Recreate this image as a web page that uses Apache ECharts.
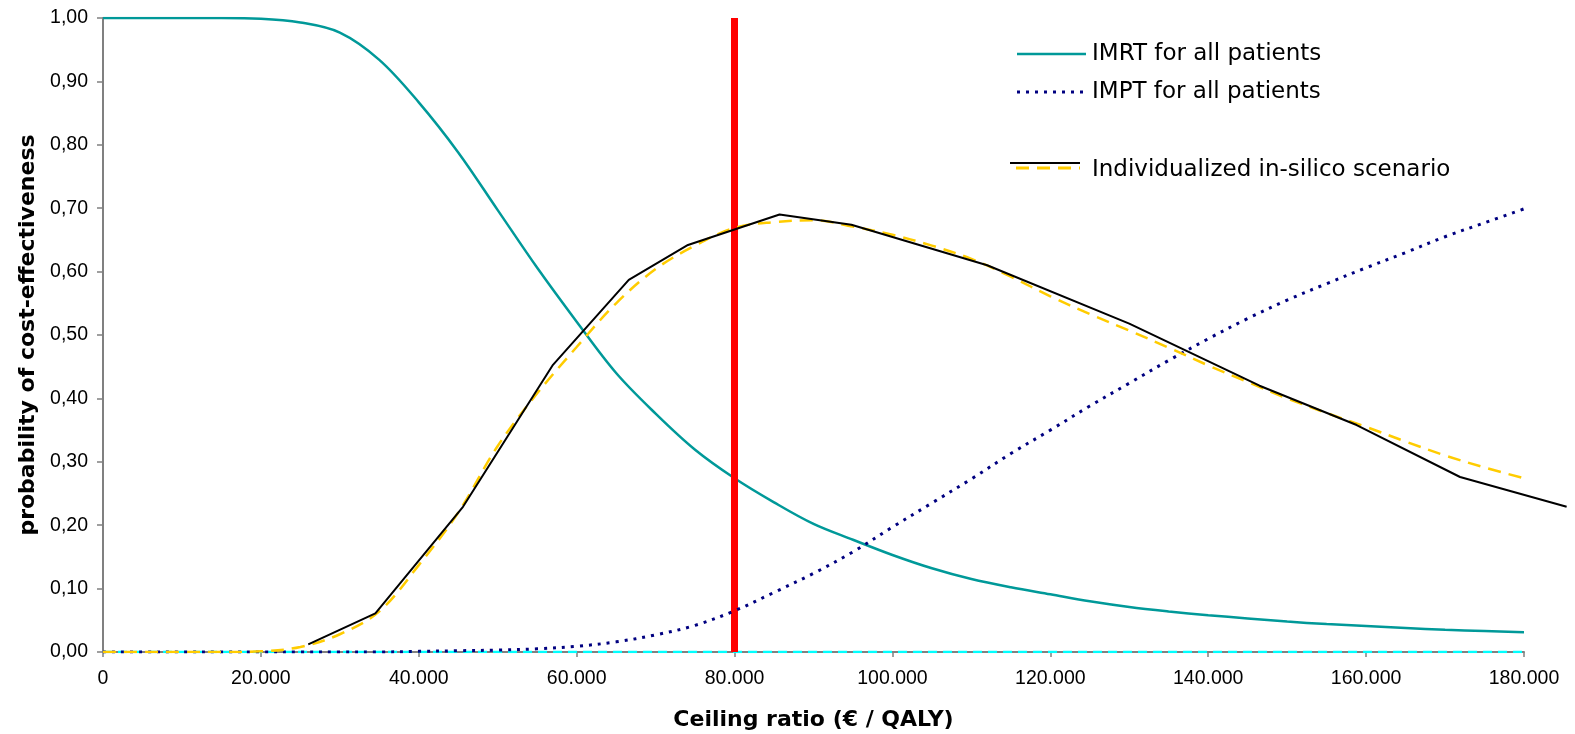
<!DOCTYPE html>
<html>
<head>
<meta charset="utf-8">
<script src="https://cdn.jsdelivr.net/npm/echarts@6/dist/echarts.min.js"></script>
<style>
    html, body { margin: 0; padding: 0; background: #fff; }
    #chart { width: 1575px; height: 734px; }
</style>
</head>
<body>
<div id="chart"></div>
<script>
    // ceiling ratio (€ / QALY), every 5.000
    const ceilingRatio = [0, 5000, 10000, 15000, 20000, 25000, 30000, 35000, 40000, 45000,
        50000, 55000, 60000, 65000, 70000, 75000, 80000, 85000, 90000, 95000,
        100000, 105000, 110000, 115000, 120000, 125000, 130000, 135000, 140000, 145000,
        150000, 155000, 160000, 165000, 170000, 175000, 180000]

    const imrtAll = [1.000, 1.000, 1.000, 1.000, 0.999, 0.993, 0.977, 0.934, 0.867, 0.788,
        0.697, 0.606, 0.521, 0.440, 0.376, 0.319, 0.274, 0.236, 0.202, 0.177,
        0.153, 0.132, 0.115, 0.102, 0.091, 0.080, 0.071, 0.064, 0.058, 0.053,
        0.048, 0.044, 0.041, 0.038, 0.035, 0.033, 0.031]

    const imptAll = [0, 0, 0, 0, 0, 0, 0, 0, 0.001, 0.002,
        0.003, 0.005, 0.009, 0.016, 0.027, 0.042, 0.065, 0.094, 0.124, 0.158,
        0.197, 0.235, 0.273, 0.313, 0.350, 0.388, 0.424, 0.460, 0.494, 0.526,
        0.555, 0.581, 0.606, 0.630, 0.655, 0.677, 0.699]

    // gele stippellijn (trend van het in-silico scenario)
    const inSilicoTrend = [0, 0, 0, 0, 0.001, 0.008, 0.028, 0.064, 0.137, 0.220,
        0.325, 0.408, 0.481, 0.550, 0.604, 0.641, 0.669, 0.678, 0.681, 0.671,
        0.658, 0.641, 0.620, 0.592, 0.561, 0.533, 0.507, 0.480, 0.452, 0.426,
        0.400, 0.377, 0.355, 0.332, 0.310, 0.291, 0.274]

    // zwarte lijn, eigen x-punten (loopt door tot voorbij 180.000)
    const inSilicoX = [26000, 34500, 45600, 57000, 66600, 74100, 85700, 94800, 112000, 130000,
        146500, 158800, 171900, 185400]
    const inSilicoY = [0.012, 0.061, 0.229, 0.453, 0.587, 0.642, 0.690, 0.674, 0.610, 0.518,
        0.420, 0.358, 0.276, 0.229]

    const baseline = [0, 0, 0, 0, 0, 0, 0, 0, 0, 0, 0, 0, 0, 0, 0, 0, 0, 0, 0,
        0, 0, 0, 0, 0, 0, 0, 0, 0, 0, 0, 0, 0, 0, 0, 0, 0, 0]

    const ceilingThreshold = 80000
    const xTicks = {min: 0, max: 180000, interval: 20000}
    const yTicks = {min: 0, max: 1, interval: 0.1}

    const legendItems = ['IMRT for all patients', 'IMPT for all patients', 'Individualized in-silico scenario']

    const font = 'Liberation Sans, Arial, sans-serif'
    const wideFont = 'DejaVu Sans, sans-serif'
    const zip = (xs, ys) => xs.map((x, i) => [x, ys[i]])

    // plotvlak
    const chartW = 1575, gridLeft = 103, gridRight = 51, gridTop = 18, gridBottom = 82
    const plotWidth = chartW - gridLeft - gridRight
    // tweede (onzichtbaar) grid met dezelfde schaal, zodat de zwarte lijn doorloopt
    const blackMax = inSilicoX[inSilicoX.length - 1]
    const gridRightWide = chartW - gridLeft - plotWidth * blackMax / xTicks.max

    const chart = echarts.init(document.getElementById('chart'))
    chart.setOption({
        animation: false,
        backgroundColor: '#fff',
        textStyle: {fontFamily: font},
        grid: [
            {left: gridLeft, right: gridRight, top: gridTop, bottom: gridBottom, outerBoundsMode: 'none'},
            {left: gridLeft, right: gridRightWide, top: gridTop, bottom: gridBottom, outerBoundsMode: 'none'}
        ],
        xAxis: [
            {
                type: 'value',
                gridIndex: 0,
                min: xTicks.min, max: xTicks.max, interval: xTicks.interval,
                name: 'Ceiling ratio (€ / QALY)',
                nameLocation: 'middle',
                nameGap: 57,
                nameTextStyle: {fontSize: 22, fontWeight: 'bold', color: '#000', fontFamily: wideFont},
                axisLine: {lineStyle: {color: '#808080', width: 2}},
                axisTick: {inside: false, length: 5, lineStyle: {color: '#808080', width: 1.5}},
                axisLabel: {
                    fontSize: 19.5, color: '#000', margin: 17, fontFamily: font,
                    formatter: v => v === 0 ? '0' : v.toLocaleString('de-DE')
                },
                splitLine: {show: false}
            },
            {
                type: 'value',
                gridIndex: 1,
                min: xTicks.min, max: blackMax,
                show: false
            }
        ],
        yAxis: [
            {
                type: 'value',
                gridIndex: 0,
                min: yTicks.min, max: yTicks.max, interval: yTicks.interval,
                name: 'probability of cost-effectiveness',
                nameLocation: 'middle',
                nameGap: 64,
                nameTextStyle: {fontSize: 22, fontWeight: 'bold', color: '#000', fontFamily: wideFont},
                axisLine: {show: true, lineStyle: {color: '#808080', width: 2}},
                axisTick: {show: true, length: 6, lineStyle: {color: '#808080', width: 1.5}},
                axisLabel: {
                    fontSize: 19.5, color: '#000', margin: 15, fontFamily: font,
                    formatter: v => v.toFixed(2).replace('.', ',')
                },
                splitLine: {show: false}
            },
            {
                type: 'value',
                gridIndex: 1,
                min: yTicks.min, max: yTicks.max,
                show: false
            }
        ],
        series: [
            {
                name: 'baseline',
                type: 'line',
                data: zip(ceilingRatio, baseline),
                showSymbol: false,
                lineStyle: {color: '#00ffff', width: 2.5, type: [9, 6]},
                z: 3
            },
            {
                name: legendItems[0],
                type: 'line',
                data: zip(ceilingRatio, imrtAll),
                showSymbol: false,
                smooth: 0.35,
                lineStyle: {color: '#009999', width: 2.5},
                z: 4,
                markLine: {
                    silent: true,
                    symbol: ['none', 'none'],
                    label: {show: false},
                    lineStyle: {color: '#ff0000', width: 7, type: 'solid'},
                    data: [{xAxis: ceilingThreshold}]
                }
            },
            {
                name: legendItems[1],
                type: 'line',
                data: zip(ceilingRatio, imptAll),
                showSymbol: false,
                smooth: 0.35,
                lineStyle: {color: '#000080', width: 3, type: [3, 6]},
                z: 5
            },
            {
                name: legendItems[2] + ' trend',
                type: 'line',
                data: zip(ceilingRatio, inSilicoTrend),
                showSymbol: false,
                smooth: 0.35,
                lineStyle: {color: '#ffcc00', width: 2.5, type: [13, 8]},
                z: 5
            },
            {
                name: legendItems[2],
                type: 'line',
                xAxisIndex: 1,
                yAxisIndex: 1,
                data: zip(inSilicoX, inSilicoY),
                showSymbol: false,
                lineStyle: {color: '#000', width: 2},
                z: 6
            }
        ],
        // legende zoals in het origineel (derde item met twee lijntjes)
        graphic: [
            {type: 'line', shape: {x1: 1017, y1: 54, x2: 1086, y2: 54}, style: {stroke: '#009999', lineWidth: 2.5}},
            {type: 'text', style: {x: 1092, y: 54, text: legendItems[0], fontSize: 23, fontFamily: wideFont, fill: '#000', verticalAlign: 'middle'}},
            {type: 'line', shape: {x1: 1017, y1: 92, x2: 1086, y2: 92}, style: {stroke: '#000080', lineWidth: 3, lineDash: [3, 6]}},
            {type: 'text', style: {x: 1092, y: 92, text: legendItems[1], fontSize: 23, fontFamily: wideFont, fill: '#000', verticalAlign: 'middle'}},
            {type: 'line', shape: {x1: 1010, y1: 163, x2: 1080, y2: 163}, style: {stroke: '#000', lineWidth: 2}},
            {type: 'line', shape: {x1: 1016, y1: 168, x2: 1080, y2: 168}, style: {stroke: '#ffcc00', lineWidth: 3, lineDash: [13, 8]}},
            {type: 'text', style: {x: 1092, y: 170, text: legendItems[2], fontSize: 23, fontFamily: wideFont, fill: '#000', verticalAlign: 'middle'}}
        ]
    })
</script>
</body>
</html>
